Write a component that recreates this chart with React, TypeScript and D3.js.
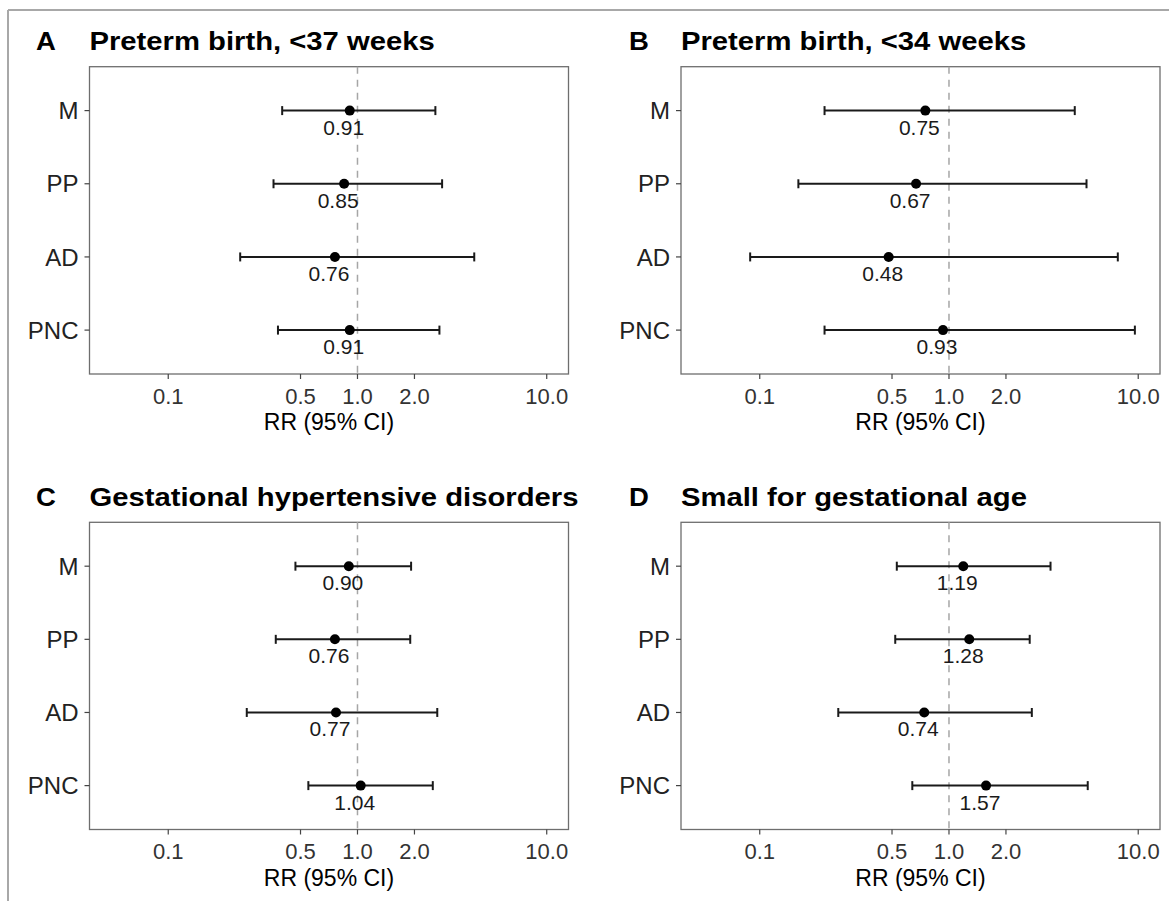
import React from "react";
import * as d3 from "d3";

const categories = ["M", "PP", "AD", "PNC"];
const panelTags = ["A", "B", "C", "D"];
const panelTitles = [
  "Preterm birth, <37 weeks",
  "Preterm birth, <34 weeks",
  "Gestational hypertensive disorders",
  "Small for gestational age",
];
const estA = [0.91, 0.85, 0.76, 0.91];
const lowA = [0.4, 0.36, 0.24, 0.38];
const highA = [2.58, 2.8, 4.14, 2.71];
const estB = [0.75, 0.67, 0.48, 0.93];
const lowB = [0.22, 0.16, 0.089, 0.22];
const highB = [4.62, 5.33, 7.8, 9.6];
const estC = [0.9, 0.76, 0.77, 1.04];
const lowC = [0.47, 0.37, 0.26, 0.55];
const highC = [1.92, 1.9, 2.64, 2.5];
const estD = [1.19, 1.28, 0.74, 1.57];
const lowD = [0.53, 0.52, 0.26, 0.64];
const highD = [3.44, 2.67, 2.74, 5.41];
const xTicks = [0.1, 0.5, 1.0, 2.0, 10.0];
const xLimits = [0.05, 10];
const axisTitle = "RR (95% CI)";

const ests = [estA, estB, estC, estD];
const lows = [lowA, lowB, lowC, lowD];
const highs = [highA, highB, highC, highD];

const W = 1169;
const H = 901;
const boxes = [
  { left: 89.5, right: 568.5, top: 66.7, bottom: 374 },
  { left: 681, right: 1160, top: 66.7, bottom: 374 },
  { left: 89.5, right: 568.5, top: 522.3, bottom: 829.5 },
  { left: 681, right: 1160, top: 522.3, bottom: 829.5 },
];
const tagX = [36, 629, 36, 629];
const FONT = "'Liberation Sans', Arial, Helvetica, sans-serif";

function Panel({ i }: { i: number }) {
  const b = boxes[i];
  const lo = Math.log10(xLimits[0]);
  const hi = Math.log10(xLimits[1]);
  const pad = (hi - lo) * 0.05;
  const x = d3
    .scaleLog()
    .domain([Math.pow(10, lo - pad), Math.pow(10, hi + pad)])
    .range([b.left, b.right]);
  const y = d3
    .scalePoint<string>()
    .domain(categories)
    .range([b.top, b.bottom])
    .padding(0.6);
  const fmt = d3.format(".1f");
  const est = ests[i];
  const low = lows[i];
  const high = highs[i];
  const midX = (b.left + b.right) / 2;
  return (
    <g>
      <text
        transform={`translate(${tagX[i]},${b.top - 16.7}) scale(1.1,1)`}
        fontFamily={FONT}
        fontWeight="bold"
        fontSize={25}
        fill="#000"
      >
        {panelTags[i]}
      </text>
      <text
        transform={`translate(${b.left},${b.top - 16.7}) scale(1.17,1)`}
        fontFamily={FONT}
        fontWeight="bold"
        fontSize={25}
        fill="#000"
      >
        {panelTitles[i]}
      </text>
      <rect x={b.left} y={b.top} width={b.right - b.left} height={b.bottom - b.top} fill="#fff" stroke="#6e6e6e" strokeWidth={1.3} />
      <line x1={x(1)} x2={x(1)} y1={b.top} y2={b.bottom} stroke="#a6a6a6" strokeWidth={1.5} strokeDasharray="7,6" />
      {categories.map((c, k) => {
        const yy = y(c)!;
        return (
          <g key={c}>
            <line x1={b.left - 5} x2={b.left} y1={yy} y2={yy} stroke="#444" strokeWidth={1.2} />
            <text x={b.left - 11} y={yy} dy="0.36em" textAnchor="end" fontFamily={FONT} fontSize={24} fill="#222">
              {c}
            </text>
            <line x1={x(low[k])} x2={x(high[k])} y1={yy} y2={yy} stroke="#1a1a1a" strokeWidth={2} />
            <line x1={x(low[k])} x2={x(low[k])} y1={yy - 4.5} y2={yy + 4.5} stroke="#1a1a1a" strokeWidth={2} />
            <line x1={x(high[k])} x2={x(high[k])} y1={yy - 4.5} y2={yy + 4.5} stroke="#1a1a1a" strokeWidth={2} />
            <circle cx={x(est[k])} cy={yy} r={5} fill="#000" />
            <text x={x(est[k]) - 6} y={yy + 24} textAnchor="middle" fontFamily={FONT} fontSize={21} fill="#1a1a1a">
              {d3.format(".2f")(est[k])}
            </text>
          </g>
        );
      })}
      {xTicks.map((t) => (
        <g key={t}>
          <line x1={x(t)} x2={x(t)} y1={b.bottom} y2={b.bottom + 5} stroke="#444" strokeWidth={1.2} />
          <text x={x(t)} y={b.bottom + 22} dy="0.36em" textAnchor="middle" fontFamily={FONT} fontSize={22} fill="#333">
            {fmt(t)}
          </text>
        </g>
      ))}
      <text x={midX} y={b.bottom + 48} dy="0.36em" textAnchor="middle" fontFamily={FONT} fontSize={23} fill="#000">
        {axisTitle}
      </text>
    </g>
  );
}

export default function App() {
  return (
    <svg width={W} height={H} style={{ position: "absolute", left: 0, top: 0, display: "block" }}>
      <rect x={0} y={0} width={W} height={H} fill="#fff" />
      <line x1={8} x2={W} y1={10} y2={10} stroke="#a8a8a8" strokeWidth={2} />
      <line x1={8} x2={8} y1={10} y2={H} stroke="#a8a8a8" strokeWidth={2} />
      {panelTags.map((_, i) => (
        <Panel key={i} i={i} />
      ))}
    </svg>
  );
}
